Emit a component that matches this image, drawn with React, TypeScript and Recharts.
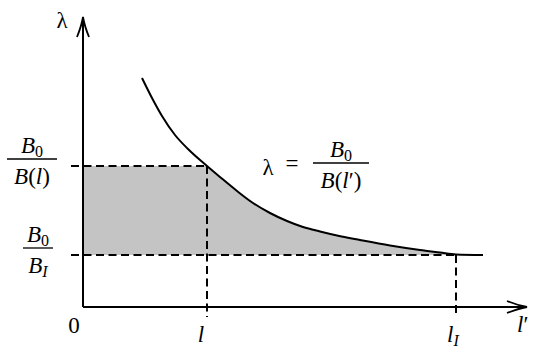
import {
  Area,
  ComposedChart,
  Line,
  ReferenceDot,
  ReferenceLine,
  XAxis,
  YAxis,
} from "recharts";

// l' positions (arbitrary units, 0 at the origin)
const curveL = [59, 69, 79, 92, 105, 124, 137, 154, 170, 187, 204, 220, 237, 254, 277, 307, 337, 357, 373, 400];
// λ = B0 / B(l') at those positions
const curveLambda = [229, 209, 191, 172, 158, 141, 130, 116, 104, 94, 86, 80, 75.5, 71.5, 67, 61.5, 57, 54.5, 52.5, 52];

const L_MARK = 124; // l
const L_I = 373; // l_I
const LAMBDA_L = 141; // B0 / B(l)
const LAMBDA_I = 52; // B0 / B_I
const X_MAX = 444;
const Y_MAX = 290;
const FORMULA_AT = { l: 229, lambda: 144 };

const data = [
  { x: 0, band: [LAMBDA_I, LAMBDA_L] },
  ...curveL.map((x, i) => ({
    x,
    lambda: curveLambda[i],
    band:
      x <= L_MARK
        ? [LAMBDA_I, LAMBDA_L]
        : x <= L_I
          ? [LAMBDA_I, curveLambda[i]]
          : undefined,
  })),
];

const FONT = "'Liberation Serif', 'DejaVu Serif', serif";
const FS = 23;
const SUB = 16;

const textProps = { style: { fontFamily: FONT, fontSize: FS }, fill: "#000" };

// axis line with a thin LaTeX-like arrow head
const ArrowLine = (props: any) => {
  const { x1, y1, x2, y2 } = props;
  const deg = (Math.atan2(y2 - y1, x2 - x1) * 180) / Math.PI;
  return (
    <g>
      <line x1={x1} y1={y1} x2={x2} y2={y2} stroke="#000" strokeWidth={2} />
      <path
        d="M-20,-6 Q-9,-1.5 0,0 Q-9,1.5 -20,6"
        fill="none"
        stroke="#000"
        strokeWidth={1.8}
        transform={`translate(${x2},${y2}) rotate(${deg})`}
      />
    </g>
  );
};

const it = { fontStyle: "italic" };
const sub = { fontSize: SUB };

const B0 = () => (
  <>
    <tspan style={it}>B</tspan>
    <tspan style={sub} dy={4}>
      0
    </tspan>
  </>
);

function Frac({ cx, y, w, num, den }: any) {
  return (
    <g>
      <text {...textProps} x={cx} y={y - 6} textAnchor="middle">
        {num}
      </text>
      <line x1={cx - w / 2} x2={cx + w / 2} y1={y} y2={y} stroke="#000" strokeWidth={1.3} />
      <text {...textProps} x={cx} y={y + 25} textAnchor="middle">
        {den}
      </text>
    </g>
  );
}

const dash = { stroke: "#000", strokeWidth: 2, strokeDasharray: "8 4.5" };

export default function App() {
  return (
    <div style={{ position: "absolute", left: 0, top: 0, background: "#fff" }}>
      <ComposedChart
        width={550}
        height={359}
        data={data}
        margin={{ top: 17, right: 23, bottom: 52, left: 83 }}
      >
        <XAxis type="number" dataKey="x" domain={[0, X_MAX]} hide allowDataOverflow />
        <YAxis type="number" domain={[0, Y_MAX]} hide allowDataOverflow />

        <Area
          type="linear"
          dataKey="band"
          fill="#c4c4c4"
          fillOpacity={1}
          stroke="none"
          isAnimationActive={false}
        />

        {/* dashed guides */}
        <ReferenceLine
          segment={[{ x: -12, y: LAMBDA_L }, { x: L_MARK, y: LAMBDA_L }]}
          ifOverflow="visible"
          {...dash}
        />
        <ReferenceLine
          segment={[{ x: -12, y: LAMBDA_I }, { x: L_I, y: LAMBDA_I }]}
          ifOverflow="visible"
          {...dash}
        />
        <ReferenceLine
          segment={[{ x: L_MARK, y: LAMBDA_L }, { x: L_MARK, y: -10 }]}
          ifOverflow="visible"
          {...dash}
        />
        <ReferenceLine
          segment={[{ x: L_I, y: LAMBDA_I }, { x: L_I, y: -10 }]}
          ifOverflow="visible"
          {...dash}
        />

        {/* axes */}
        <ReferenceLine
          segment={[{ x: 0, y: 0 }, { x: X_MAX, y: 0 }]}
          ifOverflow="visible"
          shape={ArrowLine}
        />
        <ReferenceLine
          segment={[{ x: 0, y: 0 }, { x: 0, y: Y_MAX }]}
          ifOverflow="visible"
          shape={ArrowLine}
        />

        <Line
          type="monotone"
          dataKey="lambda"
          stroke="#000"
          strokeWidth={2}
          dot={false}
          isAnimationActive={false}
        />

        {/* labels */}
        <ReferenceDot
          x={0}
          y={Y_MAX}
          r={0}
          ifOverflow="visible"
          shape={({ cx, cy }: any) => (
            <text {...textProps} x={cx - 21} y={cy + 11} textAnchor="middle">
              λ
            </text>
          )}
        />
        <ReferenceDot
          x={0}
          y={0}
          r={0}
          ifOverflow="visible"
          shape={({ cx, cy }: any) => (
            <text {...textProps} x={cx - 9} y={cy + 26} textAnchor="middle">
              0
            </text>
          )}
        />
        <ReferenceDot
          x={L_MARK}
          y={0}
          r={0}
          ifOverflow="visible"
          shape={({ cx, cy }: any) => (
            <text {...textProps} x={cx - 6} y={cy + 35} textAnchor="middle">
              <tspan style={it}>l</tspan>
            </text>
          )}
        />
        <ReferenceDot
          x={L_I}
          y={0}
          r={0}
          ifOverflow="visible"
          shape={({ cx, cy }: any) => (
            <text {...textProps} x={cx - 9} y={cy + 35}>
              <tspan style={it}>l</tspan>
              <tspan style={{ ...it, ...sub }} dy={4}>
                I
              </tspan>
            </text>
          )}
        />
        <ReferenceDot
          x={X_MAX}
          y={0}
          r={0}
          ifOverflow="visible"
          shape={({ cx, cy }: any) => (
            <text {...textProps} x={cx - 10} y={cy + 25}>
              <tspan style={it}>l</tspan>
              <tspan>′</tspan>
            </text>
          )}
        />
        <ReferenceDot
          x={0}
          y={LAMBDA_L}
          r={0}
          ifOverflow="visible"
          shape={({ cx, cy }: any) => (
            <Frac
              cx={cx - 51}
              y={cy - 7}
              w={50}
              num={<B0 />}
              den={
                <>
                  <tspan style={it}>B</tspan>
                  <tspan>(</tspan>
                  <tspan style={it}>l</tspan>
                  <tspan>)</tspan>
                </>
              }
            />
          )}
        />
        <ReferenceDot
          x={0}
          y={LAMBDA_I}
          r={0}
          ifOverflow="visible"
          shape={({ cx, cy }: any) => (
            <Frac
              cx={cx - 45}
              y={cy - 7}
              w={30}
              num={<B0 />}
              den={
                <>
                  <tspan style={it}>B</tspan>
                  <tspan style={{ ...it, ...sub }} dy={4}>
                    I
                  </tspan>
                </>
              }
            />
          )}
        />
        <ReferenceDot
          x={FORMULA_AT.l}
          y={FORMULA_AT.lambda}
          r={0}
          ifOverflow="visible"
          shape={({ cx, cy }: any) => (
            <g>
              <text {...textProps} x={cx - 44} y={cy + 12} textAnchor="middle">
                λ
              </text>
              <text {...textProps} x={cx - 20} y={cy + 8} textAnchor="middle">
                =
              </text>
              <Frac
                cx={cx + 29}
                y={cy}
                w={56}
                num={<B0 />}
                den={
                  <>
                    <tspan style={it}>B</tspan>
                    <tspan>(</tspan>
                    <tspan style={it}>l</tspan>
                    <tspan>′)</tspan>
                  </>
                }
              />
            </g>
          )}
        />
      </ComposedChart>
    </div>
  );
}
